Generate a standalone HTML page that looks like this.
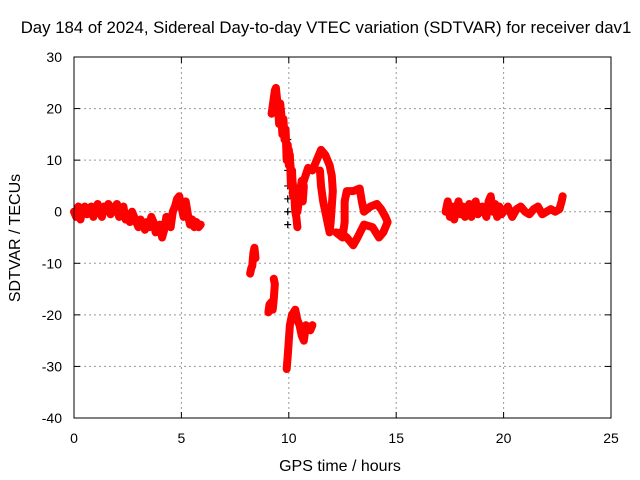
<!DOCTYPE html>
<html><head><meta charset="utf-8"><style>
body{margin:0;background:#fff;}
svg{display:block;font-family:"Liberation Sans",Arial,sans-serif;}
</style></head><body>
<svg id="chart" width="640" height="480">
<text x="326" y="33" text-anchor="middle" font-size="16.8">Day 184 of 2024, Sidereal Day-to-day VTEC variation (SDTVAR) for receiver dav1</text>
<text x="340" y="471" text-anchor="middle" font-size="16">GPS time / hours</text>
<text transform="translate(20,238) rotate(-90)" text-anchor="middle" font-size="16">SDTVAR / TECUs</text>
<g id="grid"></g><g id="marks"></g>
<rect x="74" y="57" width="537" height="361" fill="none" stroke="#000"/>
</svg>
<script>
const xTicks=[0,5,10,15,20,25];
const yTicks=[30,20,10,0,-10,-20,-30,-40];
const aT=[0,0.1,0.2,0.3,0.4,0.5,0.6,0.7,0.8,0.9,1,1.1,1.2,1.3,1.4,1.5,1.6,1.7,1.8,1.9,2,2.1,2.2,2.3,2.4,2.5,2.6,2.7,2.8,2.9,3,3.1,3.2,3.3,3.4,3.5,3.6,3.7,3.8,3.9,4,4.1,4.2,4.3,4.4,4.5,4.6,4.7,4.8,4.9,5,5.1,5.2,5.3,5.4,5.5,5.6,5.7,5.8,5.9];
const aV=[0,-1,1,-1.5,0.5,1,-0.5,0.5,1,-1,0.5,1.5,0,-1,1,0.5,1.5,-0.5,0,1,1.5,-1,0,1,-1.5,-0.5,-2,0,-1,-2,-3,-1.5,-2.5,-3.5,-2,-3,-1,-2,-4,-3,-2.5,-5,-3.5,-1,-2,-3,0,1,2.5,3,1,-1,2,-0.5,-2.5,-1.5,-3,-2,-3,-2.5];
const bT=[9.2,9.3,9.35,9.4,9.45,9.5,9.55,9.6,9.65,9.7,9.75,9.8,9.85,9.9,9.95,10.0,10.05,10.1,10.15,10.2,10.25,10.3,10.35,10.4];
const bV=[19,22,23.5,24,22,20,17,21,19,15,18,14,16,10,13,9,11,5,8,3,4,0,-1,-3];
const cT=[10.0,10.1,10.2,10.3,10.4,10.5,10.6,10.65,10.7];
const cV=[12,8,5,2,0,3,6,2,5];
const dT=[10.5,10.7,10.9,11.1,11.3,11.5,11.7,11.9,12.0,12.05,12.0,11.95,11.9,11.8,11.7,11.6,11.5,11.45];
const dV=[3,6,8.5,8,10,12,11,9,7,4,1,-2,-4,-2,0,2,5,8];
const eT=[12.2,12.5,12.6,12.6,12.7,13.0,13.3,13.4,13.5,13.8,14.1,14.3,14.5,14.6,14.4,14.2,13.9,13.5,13.2,13.0,12.7,12.4];
const eV=[-4,-5,-2,2,4,4,4.5,2,0,1,1.5,0.5,-1,-2,-4,-5,-3,-2.5,-5,-6.5,-5,-4];
const fT=[8.2,8.25,8.3,8.35,8.4,8.45];
const fV=[-12,-11,-10.5,-8,-7,-9];
const gT=[9.05,9.1,9.2,9.25,9.3,9.35,9.3];
const gV=[-19.5,-18,-17.5,-19,-17,-14,-13];
const hT=[9.9,9.95,10.0,10.05,10.15,10.3,10.4,10.5,10.6,10.7,10.8,11.0,11.1];
const hV=[-30.5,-28,-25,-22,-20,-19,-21,-22,-24,-25,-22,-23,-22];
const iT=[17.3,17.4,17.5,17.6,17.7,17.8,17.9,18.0,18.1,18.2,18.3,18.4,18.5,18.6,18.7,18.8,18.9,19.0,19.1,19.2,19.3,19.4,19.5,19.6,19.7,19.8,19.9,20.0,20.2,20.4,20.6,20.8,21.0,21.2,21.4,21.6,21.8,22.0,22.2,22.4,22.6,22.7,22.75];
const iV=[0,2,-1,1,-1.5,0.5,2,-0.5,1,-1,0,1.5,-1,1,2,-0.5,0.5,1,0,-1,2,3,0,1.5,-1,1,-0.5,0,1,-1,0.5,1,0,-0.5,0.5,1,-0.5,0,0.5,0,0.5,2,3];
const kT=[9.95,9.95,9.95,9.95,9.95,9.95,9.95];
const kV=[-2.5,0,2.5,5,8,11,14];
const red=[[aT,aV],[bT,bV],[cT,cV],[dT,dV],[eT,eV],[fT,fV],[gT,gV],[hT,hV],[iT,iV]];
const X=t=>74+t*537/25, Y=v=>57+(30-v)*361/70;
const NS='http://www.w3.org/2000/svg';
const grid=document.getElementById('grid'), marks=document.getElementById('marks');
function mk(tag,attrs,parent){const e=document.createElementNS(NS,tag);for(const k in attrs)e.setAttribute(k,attrs[k]);parent.appendChild(e);return e;}
xTicks.forEach(t=>{
  const l=mk('line',{x1:X(t),x2:X(t),y1:57,y2:418,stroke:'#999','stroke-dasharray':'2,3'},grid);
  
  
  mk('line',{x1:X(t),x2:X(t),y1:418,y2:412,stroke:'#000'},grid);
  mk('line',{x1:X(t),x2:X(t),y1:57,y2:63,stroke:'#000'},grid);
  const tx=mk('text',{x:X(t),y:443,'text-anchor':'middle','font-size':14},grid);tx.textContent=t;
  
  
});
yTicks.forEach(v=>{
  const l=mk('line',{x1:74,x2:611,y1:Y(v),y2:Y(v),stroke:'#999','stroke-dasharray':'2,3'},grid);
  
  
  mk('line',{x1:74,x2:80,y1:Y(v),y2:Y(v),stroke:'#000'},grid);
  mk('line',{x1:605,x2:611,y1:Y(v),y2:Y(v),stroke:'#000'},grid);
  const tx=mk('text',{x:62,y:Y(v)+5,'text-anchor':'end','font-size':14},grid);tx.textContent=v;
  
  
});
function plus(t,v,c,name){
  const p=mk('path',{d:`M${X(t)-3.5},${Y(v)}h7M${X(t)},${Y(v)-3.5}v7`,stroke:c,'stroke-width':1.2},marks);
  
  
}
kT.forEach((t,i)=>plus(t,kV[i],'#000','reference-point'));
red.forEach(([ts,vs])=>{
  const pl=mk('polyline',{points:ts.map((t,i)=>X(t)+','+Y(vs[i])).join(' '),fill:'none',stroke:'#f00','stroke-width':8,'stroke-linejoin':'round','stroke-linecap':'round'},marks);
  
  
  ts.forEach((t,i)=>plus(t,vs[i],'#f00','sdtvar-point'));
});
</script>
</body></html>
